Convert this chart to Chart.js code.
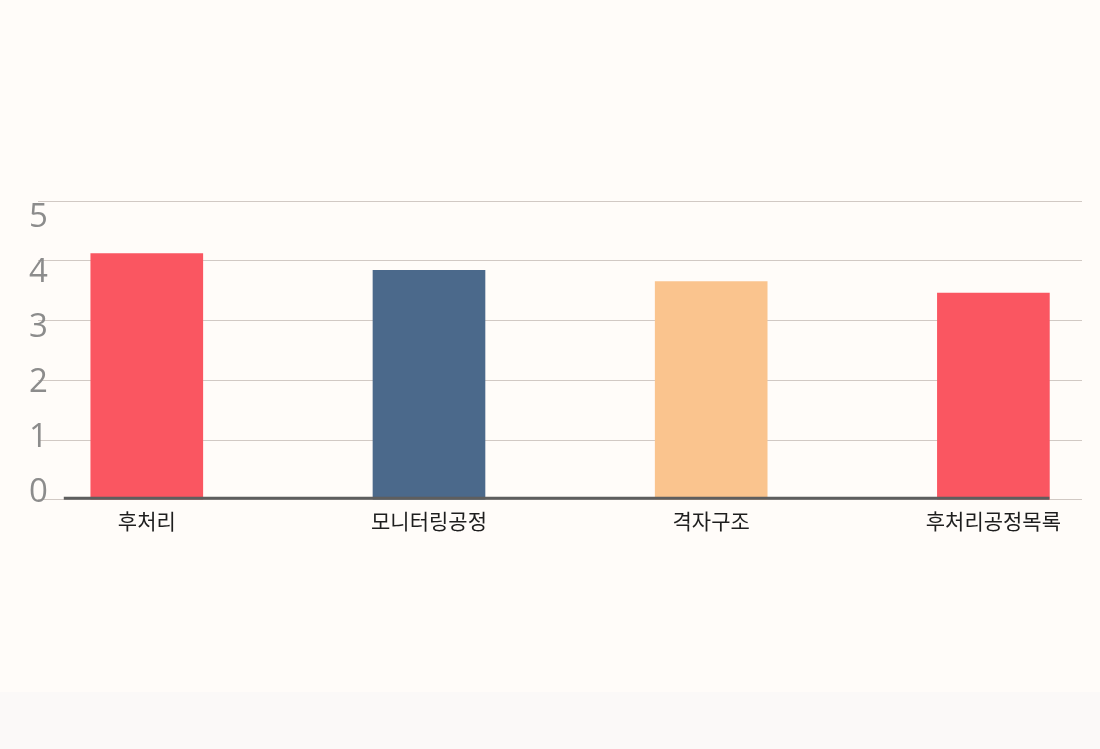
<!DOCTYPE html>
<html>
<head>
<meta charset="utf-8">
<script src="https://cdn.jsdelivr.net/npm/chart.js@4"></script>
<style>
  html, body { margin: 0; padding: 0; background: #FBF9F8; }
  #wrap { width: 1100px; height: 692px; background: #FFFCF9; position: relative; }
  canvas { display: block; }
</style>
</head>
<body>
<div id="wrap"><canvas id="c" width="1100" height="692"></canvas></div>
<script>
const categories = ['후처리', '모니터링공정', '격자구조', '후처리공정목록'];
const values = [4.12, 3.84, 3.65, 3.46];
const barColors = ['#FA5661', '#4B698B', '#FAC48E', '#FA5661'];
const yTicks = [0, 1, 2, 3, 4, 5];

const baseline = {
  id: 'baseline',
  afterDatasetsDraw(chart) {
    const ctx = chart.ctx;
    const meta = chart.getDatasetMeta(0);
    const first = meta.data[0], last = meta.data[meta.data.length - 1];
    const y0 = chart.scales.y.getPixelForValue(0);
    const x1 = first.x - first.width / 2 - 27;
    const x2 = last.x + last.width / 2;
    ctx.save();
    ctx.strokeStyle = '#5E5E5E';
    ctx.lineWidth = 3;
    ctx.beginPath();
    ctx.moveTo(x1, y0 - 1.5);
    ctx.lineTo(x2, y0 - 1.5);
    ctx.stroke();
    ctx.restore();
  }
};

new Chart(document.getElementById('c'), {
  type: 'bar',
  data: {
    datasets: [{
      data: values.map((v, i) => ({ x: i, y: v })),
      backgroundColor: barColors,
      borderWidth: 0,
      barThickness: 112
    }]
  },
  options: {
    responsive: false,
    animation: false,
    layout: { padding: { left: 38, right: 18, top: 201, bottom: 157 } },
    plugins: { legend: { display: false }, tooltip: { enabled: false } },
    scales: {
      x: {
        type: 'linear',
        offset: false,
        min: -0.3855,
        max: 3.314,
        grid: { display: false, offset: false },
        border: { display: false },
        afterBuildTicks(axis) { axis.ticks = categories.map((c, i) => ({ value: i })); },
        ticks: {
          autoSkip: false,
          maxRotation: 0,
          padding: 1,
          color: '#1E1E1E',
          font: { family: '"Noto Sans CJK KR", "Noto Sans", sans-serif', size: 21 },
          callback: (v) => categories[v]
        }
      },
      y: {
        min: 0,
        max: 5,
        z: 1,
        grid: { color: 'rgba(90,70,60,0.28)', lineWidth: 1, drawTicks: false },
        border: { display: false },
        afterBuildTicks(axis) { axis.ticks = yTicks.map(v => ({ value: v })); },
        ticks: { display: false }
      },
      y2: {
        position: 'left',
        min: -0.128,
        max: 5.31,
        grid: { display: false, drawTicks: false },
        border: { display: false },
        afterBuildTicks(axis) { axis.ticks = yTicks.map(v => ({ value: v })); },
        ticks: {
          mirror: true,
          padding: -3,
          color: '#8C8C8C',
          font: { family: '"Open Sans", sans-serif', size: 33 }
        }
      }
    }
  },
  plugins: [baseline]
});
</script>
</body>
</html>
